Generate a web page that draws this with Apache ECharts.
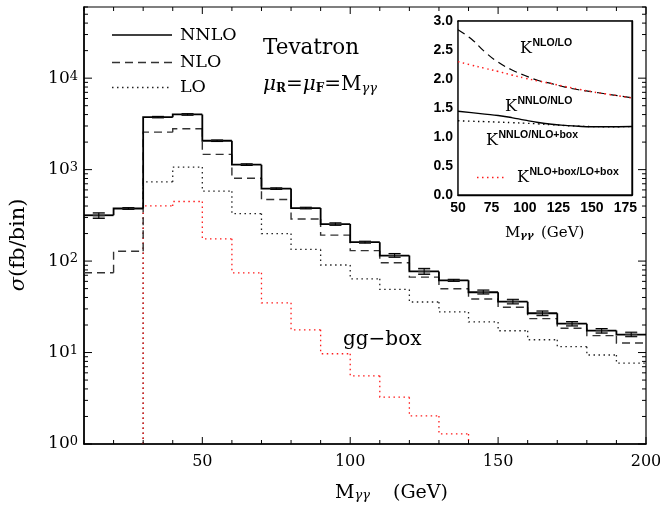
<!DOCTYPE html>
<html>
<head>
<meta charset="utf-8">
<script src="https://cdn.jsdelivr.net/npm/echarts@6/dist/echarts.min.js"></script>
<style>
  html, body { margin: 0; padding: 0; background: #fff; }
  #chart { width: 660px; height: 508px; }
</style>
</head>
<body>
<div id="chart"></div>
<script>
// Diphoton invariant-mass spectrum at the Tevatron, 10 GeV bins (fb per bin)
const binEdges = [10, 20, 30, 40, 50, 60, 70, 80, 90, 100, 110, 120, 130, 140, 150, 160, 170, 180, 190, 200];
const nnlo     = [317, 376, 3750, 4010, 2070, 1134, 620, 380, 254, 161, 115, 77, 61.6, 45.6, 36, 26.9, 20.7, 17.4, 15.7];
const nnloLow  = [293, 368, 3680, 3930, 2030, 1110, 608, 372, 246, 157, 110, 71.6, 60, 43.6, 34, 25.3, 19.5, 16.3, 14.9];
const nnloHigh = [337, 384, 3820, 4090, 2110, 1158, 632, 388, 262, 165, 121, 83.2, 63.2, 48.3, 38.2, 28.5, 21.8, 18.3, 16.7];
const nlo      = [74.5, 128, 2570, 2800, 1467, 804, 471, 289, 192, 130, 96, 66.8, 49.9, 38.5, 31.3, 23.5, 18.4, 15.3, 12.7];
const lo       = [null, null, 733, 1067, 582, 331, 200, 134, 90.6, 64, 49, 35.7, 27.8, 21.6, 17.3, 13.8, 11.6, 9.4, 7.66];
const ggBox    = [null, null, 401, 448, 175, 74.5, 35, 17.7, 9.7, 5.56, 3.25, 2.03, 1.29, null, null, null, null, null, null];

// K-factors versus M_gammagamma (inset)
const kMass       = [50, 60, 70, 80, 90, 100, 110, 120, 130, 140, 150, 160, 170, 180];
const kNloLo      = [2.85, 2.69, 2.47, 2.29, 2.16, 2.06, 1.975, 1.92, 1.86, 1.815, 1.78, 1.745, 1.71, 1.675];
const kNloLoBox   = [2.30, 2.24, 2.185, 2.13, 2.07, 2.015, 1.965, 1.92, 1.87, 1.825, 1.78, 1.745, 1.71, 1.675];
const kNnloNlo    = [1.445, 1.42, 1.395, 1.37, 1.335, 1.29, 1.25, 1.22, 1.20, 1.185, 1.177, 1.176, 1.178, 1.18];
const kNnloNloBox = [1.28, 1.272, 1.265, 1.257, 1.248, 1.238, 1.226, 1.212, 1.198, 1.187, 1.18, 1.178, 1.178, 1.18];

// Axis ranges and tick values of the main panel
const xRange = [10, 200];
const yRange = [1, 60000];
const xMajorTicks = [50, 100, 150, 200];
const yDecades = [1, 10, 100, 1000, 10000];

const SERIF = 'DejaVu Serif';
const SANS = 'Liberation Sans';

const chart = echarts.init(document.getElementById('chart'), null, { renderer: 'canvas' });

// step histogram: each bin draws its riser at the left edge and its top
function stepRenderer(vals) {
  return function (params, api) {
    const i = params.dataIndex;
    const cs = params.coordSys;
    const floor = cs.y + cs.height;
    const yOf = v => (v == null ? floor : api.coord([binEdges[i], v])[1]);
    const xa = api.coord([binEdges[i], yRange[0]])[0];
    const xb = api.coord([binEdges[i + 1], yRange[0]])[0];
    const y = yOf(vals[i]);
    const yp = i === 0 ? y : yOf(vals[i - 1]);
    const pts = [[xa, yp], [xa, y]];
    if (vals[i] != null) pts.push([xb, y]);
    return { type: 'polyline', shape: { points: pts }, style: api.style({ fill: null }) };
  };
}

function histSeries(name, vals, lineStyle) {
  return {
    name: name,
    type: 'custom',
    xAxisIndex: 0, yAxisIndex: 0,
    renderItem: stepRenderer(vals),
    data: vals.map((v, i) => [binEdges[i], v == null ? yRange[0] : v]),
    itemStyle: { color: 'none', borderColor: lineStyle.color, borderWidth: lineStyle.width, borderType: lineStyle.type },
    silent: true,
    z: lineStyle.z || 2
  };
}

// tick marks on all four sides of the main frame
const tickData = [];
for (let x = xRange[0]; x <= xRange[1]; x += 10) {
  tickData.push(['x', x, xMajorTicks.includes(x) ? 7 : 4]);
}
yDecades.forEach(d => {
  tickData.push(['y', d, 8]);
  for (let m = 2; m <= 9; m++) {
    if (d * m <= yRange[1]) tickData.push(['y', d * m, 4]);
  }
});

function tickRenderer(params, api) {
  const t = tickData[params.dataIndex];
  const cs = params.coordSys;
  const style = { stroke: '#000', lineWidth: 1 };
  if (t[0] === 'x') {
    const x = api.coord([t[1], yRange[0]])[0];
    return { type: 'group', children: [
      { type: 'line', shape: { x1: x, y1: cs.y + cs.height, x2: x, y2: cs.y + cs.height - t[2] }, style: style },
      { type: 'line', shape: { x1: x, y1: cs.y, x2: x, y2: cs.y + t[2] }, style: style }
    ] };
  }
  const y = api.coord([xRange[0], t[1]])[1];
  return { type: 'group', children: [
    { type: 'line', shape: { x1: cs.x, y1: y, x2: cs.x + t[2], y2: y }, style: style },
    { type: 'line', shape: { x1: cs.x + cs.width, y1: y, x2: cs.x + cs.width - t[2], y2: y }, style: style }
  ] };
}

// NNLO error bars with shaded band
function errRenderer(params, api) {
  const i = params.dataIndex;
  const xc = (binEdges[i] + binEdges[i + 1]) / 2;
  const x = api.coord([xc, nnlo[i]])[0];
  const yl = api.coord([xc, nnloLow[i]])[1];
  const yh = api.coord([xc, nnloHigh[i]])[1];
  const w = 6;
  const s = { stroke: '#000', lineWidth: 1.1 };
  return { type: 'group', children: [
    { type: 'rect', shape: { x: x - w, y: yh, width: 2 * w, height: Math.max(yl - yh, 1.5) }, style: { fill: 'rgba(90,90,90,0.55)' } },
    { type: 'line', shape: { x1: x, y1: yl, x2: x, y2: yh }, style: s },
    { type: 'line', shape: { x1: x - w, y1: yl, x2: x + w, y2: yl }, style: s },
    { type: 'line', shape: { x1: x - w, y1: yh, x2: x + w, y2: yh }, style: s }
  ] };
}

const kLine = (xs, ys) => xs.map((x, i) => [x, ys[i]]);

const option = {
  animation: false,
  backgroundColor: '#fff',
  grid: [
    { left: 84, right: 14, top: 7, bottom: 64, show: true, borderColor: '#000', borderWidth: 1.2, outerBoundsMode: 'none', containLabel: false },
    { left: 458, right: 28, top: 21, bottom: 313, show: true, backgroundColor: '#fff', borderColor: '#000', borderWidth: 1.4, z: 3, outerBoundsMode: 'none', containLabel: false }
  ],
  xAxis: [
    {
      type: 'value', gridIndex: 0, min: xRange[0], max: xRange[1], interval: 10,
      axisLine: { show: true, lineStyle: { color: '#000', width: 1.5 } },
      axisTick: { show: false }, splitLine: { show: false },
      axisLabel: { margin: 10, color: '#000', fontFamily: SERIF, fontSize: 16,
        formatter: v => (xMajorTicks.includes(v) ? String(v) : '') }
    },
    {
      type: 'value', gridIndex: 1, min: 50, max: 180, interval: 25,
      axisLine: { show: true, onZero: false, lineStyle: { color: '#000', width: 1.4 } },
      axisTick: { show: true, inside: true, length: 5, lineStyle: { color: '#000' } },
      minorTick: { show: true, splitNumber: 5, length: 3, lineStyle: { color: '#000' } },
      splitLine: { show: false },
      axisLabel: { margin: 6, color: '#000', fontFamily: SANS, fontWeight: 'bold', fontSize: 14, showMaxLabel: false,
        formatter: v => (v % 25 === 0 ? String(v) : '') }
    },
    {
      type: 'value', gridIndex: 1, position: 'top', min: 50, max: 180, interval: 25,
      axisLine: { show: true, onZero: false, lineStyle: { color: '#000', width: 1.4 } },
      axisTick: { show: true, inside: true, length: 5, lineStyle: { color: '#000' } },
      minorTick: { show: true, splitNumber: 5, length: 3, lineStyle: { color: '#000' } },
      splitLine: { show: false }, axisLabel: { show: false }
    }
  ],
  yAxis: [
    {
      type: 'log', logBase: 10, gridIndex: 0, min: yRange[0], max: yRange[1],
      axisLine: { show: true, lineStyle: { color: '#000', width: 1.5 } },
      axisTick: { show: false }, splitLine: { show: false }, minorTick: { show: false },
      axisLabel: {
        margin: 6, color: '#000',
        formatter: v => {
          const l = Math.log10(v), e = Math.round(l);
          if (Math.abs(l - e) > 1e-6) return '';
          return '{b|10}{s|' + e + '}';
        },
        rich: {
          b: { fontFamily: SERIF, fontSize: 17, color: '#000', verticalAlign: 'bottom' },
          s: { fontFamily: SERIF, fontSize: 13, color: '#000', verticalAlign: 'top' }
        }
      }
    },
    {
      type: 'value', gridIndex: 1, min: 0, max: 3, interval: 0.5,
      axisLine: { show: true, onZero: false, lineStyle: { color: '#000', width: 1.4 } },
      axisTick: { show: true, inside: true, length: 5, lineStyle: { color: '#000' } },
      splitLine: { show: false },
      axisLabel: { margin: 5, color: '#000', fontFamily: SANS, fontWeight: 'bold', fontSize: 14,
        formatter: v => v.toFixed(1) }
    },
    {
      type: 'value', gridIndex: 1, position: 'right', min: 0, max: 3, interval: 0.5,
      axisLine: { show: true, onZero: false, lineStyle: { color: '#000', width: 1.4 } },
      axisTick: { show: true, inside: true, length: 5, lineStyle: { color: '#000' } },
      splitLine: { show: false }, axisLabel: { show: false }
    }
  ],
  series: [
    histSeries('LO', lo, { color: '#222', width: 1.3, type: [1.5, 3.5] }),
    histSeries('gg-box', ggBox, { color: '#ff1a1a', width: 1.3, type: [1.5, 3.5], z: 2.5 }),
    histSeries('NLO', nlo, { color: '#333', width: 1.4, type: [8, 5], z: 2.6 }),
    histSeries('NNLO', nnlo, { color: '#000', width: 1.8, type: 'solid', z: 3 }),
    {
      name: 'NNLO errors', type: 'custom', xAxisIndex: 0, yAxisIndex: 0,
      renderItem: errRenderer, silent: true, z: 4,
      data: nnlo.map((v, i) => [(binEdges[i] + binEdges[i + 1]) / 2, v])
    },
    {
      name: 'ticks', type: 'custom', xAxisIndex: 0, yAxisIndex: 0,
      renderItem: tickRenderer, silent: true, z: 5,
      data: tickData.map(t => (t[0] === 'x' ? [t[1], yRange[0]] : [xRange[0], t[1]]))
    },
    {
      name: 'K NLO/LO', type: 'line', xAxisIndex: 1, yAxisIndex: 1, z: 6,
      data: kLine(kMass, kNloLo), smooth: true, showSymbol: false, silent: true,
      lineStyle: { color: '#000', width: 1.2, type: [8, 5] }
    },
    {
      name: 'K NLO+box/LO+box', type: 'line', xAxisIndex: 1, yAxisIndex: 1, z: 6,
      data: kLine(kMass, kNloLoBox), smooth: true, showSymbol: false, silent: true,
      lineStyle: { color: '#ff1a1a', width: 1.5, type: [1.5, 3.5] }
    },
    {
      name: 'K NNLO/NLO', type: 'line', xAxisIndex: 1, yAxisIndex: 1, z: 6,
      data: kLine(kMass, kNnloNlo), smooth: true, showSymbol: false, silent: true,
      lineStyle: { color: '#000', width: 1.4, type: 'solid' }
    },
    {
      name: 'K NNLO/NLO+box', type: 'line', xAxisIndex: 1, yAxisIndex: 1, z: 6,
      data: kLine(kMass, kNnloNloBox), smooth: true, showSymbol: false, silent: true,
      lineStyle: { color: '#000', width: 1.4, type: [1.5, 3.5] }
    }
  ],
  graphic: [
    // legend of the main panel
    { type: 'line', shape: { x1: 112, y1: 35, x2: 172, y2: 35 }, style: { stroke: '#000', lineWidth: 1.6 } },
    { type: 'line', shape: { x1: 112, y1: 62.5, x2: 172, y2: 62.5 }, style: { stroke: '#333', lineWidth: 1.4, lineDash: [8, 5] } },
    { type: 'line', shape: { x1: 112, y1: 87.5, x2: 172, y2: 87.5 }, style: { stroke: '#222', lineWidth: 1.3, lineDash: [1.5, 3.5] } },
    { type: 'text', x: 180, y: 35, style: { text: 'NNLO', font: '17.5px "' + SERIF + '"', fill: '#000', verticalAlign: 'middle' } },
    { type: 'text', x: 180, y: 62.5, style: { text: 'NLO', font: '17.5px "' + SERIF + '"', fill: '#000', verticalAlign: 'middle' } },
    { type: 'text', x: 180, y: 87.5, style: { text: 'LO', font: '17.5px "' + SERIF + '"', fill: '#000', verticalAlign: 'middle' } },
    { type: 'text', x: 263, y: 48, style: { text: 'Tevatron', font: '21.5px "' + SERIF + '"', fill: '#000', verticalAlign: 'middle' } },
    {
      type: 'text', x: 263, y: 85,
      style: {
        text: '{m|μ}{s|R}{n|=}{m|μ}{s|F}{n|=M}{g|γγ}',
        verticalAlign: 'middle', fill: '#000',
        rich: {
          m: { fontFamily: SERIF, fontStyle: 'italic', fontSize: 20, verticalAlign: 'middle' },
          n: { fontFamily: SERIF, fontSize: 20, verticalAlign: 'middle' },
          s: { fontFamily: SERIF, fontWeight: 'bold', fontSize: 12, verticalAlign: 'bottom' },
          g: { fontFamily: SERIF, fontStyle: 'italic', fontSize: 13, verticalAlign: 'bottom' }
        }
      }
    },
    { type: 'text', x: 343, y: 340, style: { text: 'gg−box', font: '20px "' + SERIF + '"', fill: '#000', verticalAlign: 'middle' } },
    // axis titles of the main panel
    {
      type: 'text', x: 335, y: 493,
      style: {
        text: '{n|M}{g|γγ}', verticalAlign: 'middle', fill: '#000',
        rich: {
          n: { fontFamily: SERIF, fontSize: 19, verticalAlign: 'middle' },
          g: { fontFamily: SERIF, fontStyle: 'italic', fontSize: 13, verticalAlign: 'bottom' }
        }
      }
    },
    { type: 'text', x: 393, y: 493, style: { text: '(GeV)', font: '19px "' + SERIF + '"', fill: '#000', verticalAlign: 'middle' } },
    {
      type: 'text', x: 19, y: 245, rotation: Math.PI / 2,
      style: {
        text: '{s|σ}{n|(fb/bin)}', align: 'center', verticalAlign: 'middle', fill: '#000',
        rich: {
          s: { fontFamily: SERIF, fontStyle: 'italic', fontSize: 21 },
          n: { fontFamily: SERIF, fontSize: 21 }
        }
      }
    },
    // inset labels
    { type: 'text', x: 520, y: 49, z: 10, style: { text: 'K', font: '16px "' + SERIF + '"', fill: '#000', verticalAlign: 'middle' } },
    { type: 'text', x: 532.5, y: 43, z: 10, style: { text: 'NLO/LO', font: 'bold 10.5px "' + SANS + '"', fill: '#000', verticalAlign: 'middle' } },
    { type: 'text', x: 505, y: 107, z: 10, style: { text: 'K', font: '16px "' + SERIF + '"', fill: '#000', verticalAlign: 'middle' } },
    { type: 'text', x: 517.5, y: 101.5, z: 10, style: { text: 'NNLO/NLO', font: 'bold 10.5px "' + SANS + '"', fill: '#000', verticalAlign: 'middle' } },
    { type: 'text', x: 486, y: 141, z: 10, style: { text: 'K', font: '16px "' + SERIF + '"', fill: '#000', verticalAlign: 'middle' } },
    { type: 'text', x: 498.5, y: 135, z: 10, style: { text: 'NNLO/NLO+box', font: 'bold 10.5px "' + SANS + '"', fill: '#000', verticalAlign: 'middle' } },
    { type: 'line', z: 10, shape: { x1: 477, y1: 177.5, x2: 507, y2: 177.5 }, style: { stroke: '#ff1a1a', lineWidth: 1.5, lineDash: [1.5, 3.5] } },
    { type: 'text', x: 517, y: 177.5, z: 10, style: { text: 'K', font: '16px "' + SERIF + '"', fill: '#000', verticalAlign: 'middle' } },
    { type: 'text', x: 529.5, y: 172, z: 10, style: { text: 'NLO+box/LO+box', font: 'bold 10.5px "' + SANS + '"', fill: '#000', verticalAlign: 'middle' } },
    {
      type: 'text', x: 505, y: 233, z: 10,
      style: {
        text: '{n|M}{g|γγ}', verticalAlign: 'middle', fill: '#000',
        rich: {
          n: { fontFamily: SERIF, fontSize: 15, verticalAlign: 'middle' },
          g: { fontFamily: SERIF, fontStyle: 'italic', fontWeight: 'bold', fontSize: 10, verticalAlign: 'bottom' }
        }
      }
    },
    { type: 'text', x: 541, y: 233, z: 10, style: { text: '(GeV)', font: '15px "' + SERIF + '"', fill: '#000', verticalAlign: 'middle' } }
  ]
};

chart.setOption(option);
</script>
</body>
</html>
